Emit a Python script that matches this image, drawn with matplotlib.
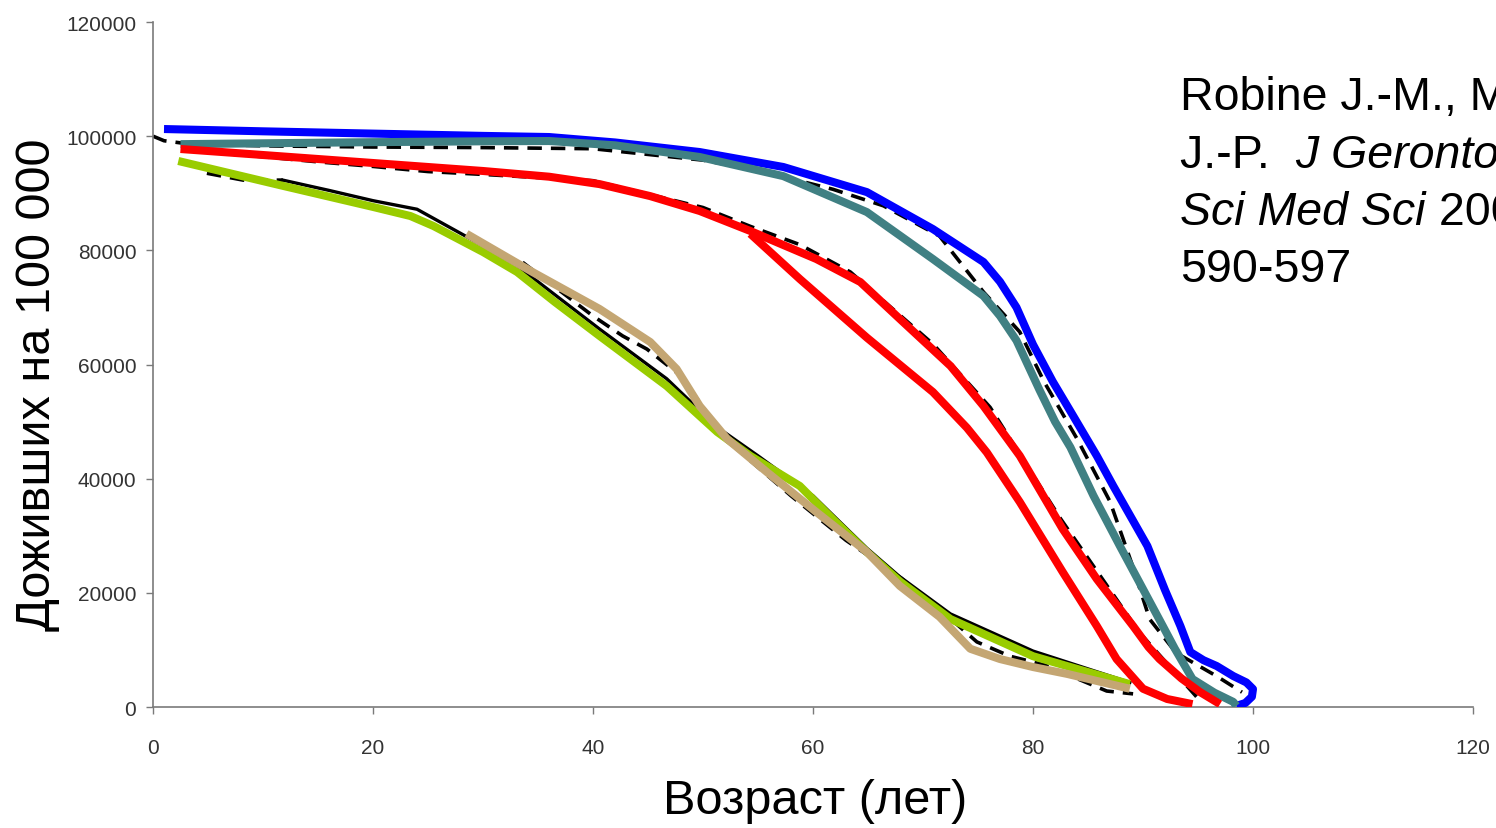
import matplotlib
matplotlib.use("Agg")
import matplotlib.pyplot as plt

# ---------------- data ----------------
blue_x = [1, 10, 20, 30, 36, 42, 49.7, 57.3, 64.9, 70.9, 75.5, 77, 78.5, 80, 81.8, 83.5, 85.8, 87.3, 90.4, 92, 93.4, 94.3, 95.5, 96.7, 98.2, 99.4, 100, 99.9, 99.3, 98.5]
blue_y = [101250, 100850, 100450, 100050, 99850, 98900, 97220, 94600, 90200, 83730, 77950, 74500, 70000, 63500, 57000, 51500, 44000, 38720, 28200, 20500, 14190, 9630, 8200, 7180, 5430, 4300, 3150, 1800, 700, 200]

teal_x = [2.5, 10, 20, 30, 36, 42, 49.7, 57.3, 64.9, 70.9, 75.5, 77, 78.5, 80.6, 82, 83.4, 85.5, 87.9, 91.8, 92.9, 94.5, 96.5, 98.2, 98.5]
teal_y = [98600, 98750, 98950, 99100, 99150, 98400, 96350, 93000, 86700, 78480, 72000, 68500, 64200, 55500, 50000, 45500, 37000, 28200, 14190, 10200, 4900, 2500, 900, 200]

red1_x = [2.5, 10, 20, 30, 36, 40.6, 45.2, 49.7, 54.3, 60.3, 64.3, 67.9, 72.5, 75.5, 78.8, 82.7, 85.8, 89.1, 90.5, 91.5, 93.5, 95.2, 97]
red1_y = [97750, 96700, 95300, 93900, 92900, 91600, 89500, 86890, 83390, 78480, 74450, 67970, 59740, 52730, 44000, 31180, 22420, 14190, 10500, 8400, 5000, 2600, 500]

red2_x = [54.3, 58.8, 64.9, 70.9, 74, 75.8, 78.8, 82.7, 85.8, 87.6, 90, 92.2, 94.5]
red2_y = [82900, 74980, 64700, 55180, 48900, 44600, 35910, 23650, 14190, 8400, 3200, 1400, 500]

green_x = [2.3, 11.8, 20, 23.4, 25.5, 30, 33.1, 36.5, 40.6, 46.7, 51.3, 54.3, 58.8, 61.8, 64.9, 67.9, 72.5, 80, 88.8]
green_y = [95650, 91300, 87600, 86010, 84260, 79710, 76200, 71000, 65000, 56230, 48170, 44000, 38720, 32930, 27150, 22000, 15400, 8900, 4000]

tan_x = [28.5, 34.5, 40.6, 45.2, 47.6, 49.7, 52.2, 55.8, 60.3, 64.9, 67.9, 71.5, 74.3, 77, 80, 83.1, 88.8]
tan_y = [82900, 76200, 69720, 63940, 59210, 52730, 46950, 41170, 34160, 27150, 21200, 15800, 10200, 8400, 7000, 5800, 3200]

# scanned black reference curves
k1_x = [0, 1, 3, 10, 20, 30, 40, 50, 55, 61.8, 66.4, 71.5, 75.5, 78.8, 81, 84, 87, 89, 90.6, 93, 96.7, 99]
k1_y = [100000, 99200, 98700, 98300, 98100, 98000, 97800, 95800, 94000, 90700, 87800, 82500, 72700, 65700, 57000, 47000, 36000, 25000, 15400, 9500, 5400, 2600]

k2_x = [5, 10, 15, 20, 25, 30, 40, 50, 54.3, 58.8, 63.4, 70.9, 76.1, 82.5, 89.7, 95]
k2_y = [97200, 96400, 95500, 94700, 93800, 93300, 92200, 87500, 84200, 81000, 76200, 63600, 52500, 33000, 13000, 1500]

k3a_x = [4.9, 8.2, 11.8]
k3a_y = [93500, 92300, 92300]
k3_x = [11.8, 16, 20, 24, 25.5, 30, 33.1, 40.6, 46.7, 51.3, 55, 60, 64.9, 67.9, 72.5, 80, 88.8]
k3_y = [92300, 90500, 88700, 87200, 85600, 80800, 77300, 66200, 57500, 49000, 44000, 37000, 27800, 22800, 16300, 9800, 4300]

k4_x = [33.6, 40, 42.7, 44.9, 48, 52, 58, 63, 68, 72, 74.9, 77.9, 81, 86.7, 89.1]
k4_y = [77900, 68500, 65000, 62700, 58000, 47000, 37000, 29200, 22600, 16300, 11400, 8900, 7400, 2800, 2300]

x_ticks = [0, 20, 40, 60, 80, 100, 120]
y_ticks = [0, 20000, 40000, 60000, 80000, 100000, 120000]

# ---------------- figure ----------------
W, H = 1496, 829
fig = plt.figure(figsize=(W / 100, H / 100), dpi=100)
ax = fig.add_axes([153 / W, 1 - 708 / H, (1473 - 153) / W, (708 - 23) / H])

ax.set_xlim(0, 120)
ax.set_ylim(0, 120000)

kdash = dict(color="black", lw=2.6, linestyle=(0, (4, 2.5)), zorder=2)
ax.plot(k1_x, k1_y, **kdash)
ax.plot(k2_x, k2_y, **kdash)
ax.plot(k3a_x, k3a_y, **kdash)
ax.plot(k3_x, k3_y, color="black", lw=2.4, zorder=2, solid_joinstyle="round")
ax.plot(k4_x, k4_y, **kdash)

lw = 5.8
style = dict(lw=lw, solid_capstyle="butt", solid_joinstyle="round")
ax.plot(blue_x, blue_y, color="#0000FF", zorder=3, **style)
ax.plot(teal_x, teal_y, color="#408083", zorder=4, **style)
ax.plot(red1_x, red1_y, color="#FF0000", zorder=5, **style)
ax.plot(red2_x, red2_y, color="#FF0000", zorder=5, **style)
ax.plot(green_x, green_y, color="#99CC00", zorder=6, **style)
ax.plot(tan_x, tan_y, color="#C4A673", zorder=7, **style)

for s in ["top", "right"]:
    ax.spines[s].set_visible(False)
for s in ["left", "bottom"]:
    ax.spines[s].set_color("#7a7a7a")
    ax.spines[s].set_linewidth(1.2)

tick_font = ["Liberation Sans Narrow", "Liberation Sans", "DejaVu Sans"]
ax.set_xticks(x_ticks)
ax.set_yticks(y_ticks)
ax.set_xticklabels([str(v) for v in x_ticks], family=tick_font, fontsize=15, color="#333333")
ax.set_yticklabels([str(v) for v in y_ticks], family=tick_font, fontsize=15, color="#333333")
ax.tick_params(axis="x", direction="out", length=5, width=1, color="#7a7a7a", pad=17)
ax.tick_params(axis="y", direction="out", length=5, width=1, color="#7a7a7a", pad=7)

lab_font = ["Liberation Sans", "DejaVu Sans"]
fig.text(38 / W, 1 - 385 / H, "Доживших на 100 000", rotation=90, ha="center", va="center",
         family=lab_font, fontsize=35, color="black")
fig.text(815 / W, 1 - 802 / H, "Возраст (лет)", ha="center", va="center",
         family=lab_font, fontsize=35, color="black")

# citation (runs past the right figure edge, as in the reference)
cfs = 33.5
x0 = 1180 / W
lines = [
    [("Robine J.-M., Michel", "normal")],
    [("J.-P.  ", "normal"), ("J Gerontol A Biol", "italic")],
    [("Sci Med Sci", "italic"), (" 2004; 59:", "normal")],
    [("590-597", "normal")],
]
baselines = [110, 168, 225, 282]
fig.canvas.draw()
renderer = fig.canvas.get_renderer()
for parts, bl in zip(lines, baselines):
    xpos = x0
    for txt, st in parts:
        t = fig.text(xpos, 1 - bl / H, txt, ha="left", va="baseline", family=lab_font,
                     fontsize=cfs, style=st, color="black")
        bb = t.get_window_extent(renderer=renderer)
        xpos = bb.x1 / W

fig.savefig("out.png", dpi=100)
